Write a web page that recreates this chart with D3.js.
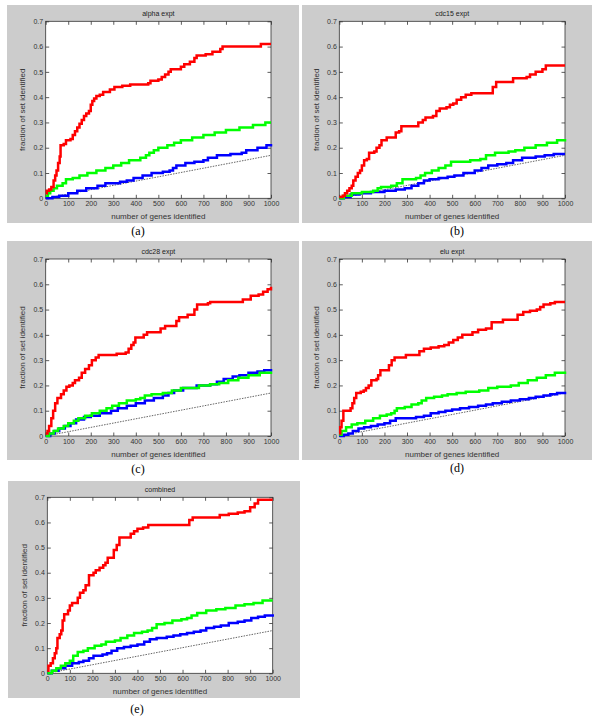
<!DOCTYPE html>
<html>
<head>
<meta charset="utf-8">
<script src="https://cdn.jsdelivr.net/npm/d3@7"></script>
<style>
  body { margin: 0; background: #fff; }
</style>
</head>
<body>
<div id="chart"></div>
<script>
// tick values
const xTicks = [0, 100, 200, 300, 400, 500, 600, 700, 800, 900, 1000];
const yTicks = [0, 0.1, 0.2, 0.3, 0.4, 0.5, 0.6, 0.7];

const titles = ["alpha expt", "cdc15 expt", "cdc28 expt", "elu expt", "combined"];
const captions = ["(a)", "(b)", "(c)", "(d)", "(e)"];
const xLabel = "number of genes identified";
const yLabel = "fraction of set identified";

// expected fraction for a random ordering (dotted line)
const randomLine = [[0, 0], [1000, 0.17]];

// (a) alpha
const alphaRed = [[0,0.02],[5,0.03],[15,0.035],[25,0.045],[35,0.07],[42,0.09],[48,0.11],[55,0.14],[62,0.165],[66,0.21],[80,0.215],[90,0.23],[110,0.235],[120,0.25],[130,0.265],[140,0.28],[150,0.295],[160,0.31],[170,0.325],[180,0.335],[192,0.345],[200,0.37],[207,0.385],[215,0.395],[225,0.405],[240,0.41],[255,0.42],[285,0.43],[305,0.44],[340,0.445],[375,0.45],[455,0.455],[465,0.465],[500,0.47],[515,0.48],[530,0.49],[545,0.5],[555,0.51],[600,0.52],[615,0.53],[640,0.54],[660,0.555],[670,0.565],[710,0.57],[740,0.58],[775,0.59],[785,0.6],[955,0.61],[1000,0.61]];
const alphaGreen = [[0,0.01],[10,0.02],[20,0.03],[35,0.04],[50,0.05],[75,0.06],[90,0.075],[120,0.08],[150,0.09],[185,0.1],[225,0.11],[265,0.12],[300,0.13],[335,0.14],[370,0.15],[420,0.16],[445,0.17],[460,0.18],[480,0.19],[500,0.2],[540,0.21],[570,0.22],[600,0.23],[650,0.24],[700,0.25],[750,0.26],[800,0.27],[860,0.28],[920,0.29],[975,0.3],[1000,0.3]];
const alphaBlue = [[0,0],[30,0.005],[60,0.01],[100,0.02],[140,0.03],[180,0.04],[230,0.05],[265,0.06],[330,0.065],[360,0.07],[390,0.08],[430,0.09],[470,0.1],[520,0.105],[550,0.11],[565,0.12],[580,0.13],[620,0.14],[660,0.145],[700,0.15],[720,0.16],[760,0.17],[820,0.175],[870,0.18],[890,0.19],[940,0.2],[980,0.21],[1000,0.215]];

// (b) cdc15
const cdc15Red = [[0,0.005],[15,0.01],[25,0.02],[35,0.03],[45,0.04],[55,0.05],[62,0.07],[72,0.085],[82,0.1],[92,0.11],[100,0.13],[110,0.15],[122,0.155],[132,0.18],[155,0.185],[165,0.2],[178,0.21],[187,0.23],[210,0.24],[250,0.26],[265,0.265],[275,0.285],[350,0.3],[370,0.31],[382,0.32],[415,0.325],[430,0.345],[445,0.355],[475,0.36],[490,0.37],[505,0.375],[520,0.39],[540,0.4],[560,0.41],[585,0.415],[680,0.44],[695,0.46],[770,0.475],[830,0.48],[845,0.49],[870,0.5],[900,0.51],[915,0.525],[1000,0.525]];
const cdc15Green = [[0,0],[20,0.01],[55,0.02],[100,0.025],[150,0.03],[170,0.04],[185,0.045],[230,0.05],[255,0.06],[280,0.075],[340,0.08],[360,0.09],[380,0.1],[410,0.11],[440,0.12],[470,0.13],[495,0.145],[580,0.15],[625,0.155],[650,0.17],[690,0.18],[750,0.185],[780,0.19],[820,0.2],[870,0.21],[920,0.22],[965,0.23],[1000,0.235]];
const cdc15Blue = [[0,0],[20,0.005],[50,0.015],[90,0.02],[140,0.025],[200,0.03],[250,0.035],[290,0.04],[320,0.05],[350,0.06],[375,0.07],[400,0.075],[440,0.08],[480,0.085],[510,0.09],[550,0.1],[600,0.11],[630,0.12],[660,0.13],[700,0.135],[740,0.14],[770,0.15],[810,0.16],[870,0.165],[910,0.17],[950,0.175],[1000,0.175]];

// (c) cdc28
const cdc28Red = [[0,0.01],[8,0.02],[15,0.04],[25,0.07],[33,0.1],[42,0.13],[52,0.15],[68,0.165],[80,0.18],[92,0.195],[105,0.2],[120,0.21],[130,0.22],[148,0.23],[160,0.25],[175,0.265],[192,0.28],[205,0.3],[222,0.31],[235,0.32],[315,0.325],[355,0.33],[368,0.345],[380,0.36],[390,0.37],[398,0.39],[435,0.4],[450,0.41],[510,0.425],[530,0.435],[580,0.455],[592,0.47],[630,0.48],[660,0.5],[672,0.52],[720,0.525],[730,0.53],[875,0.54],[910,0.555],[945,0.56],[965,0.57],[985,0.58],[1000,0.59]];
const cdc28Green = [[0,0],[15,0.01],[35,0.02],[55,0.03],[80,0.04],[100,0.05],[125,0.06],[145,0.07],[175,0.08],[205,0.09],[240,0.1],[270,0.11],[295,0.12],[325,0.13],[360,0.14],[400,0.145],[420,0.15],[440,0.16],[470,0.165],[520,0.17],[560,0.18],[600,0.19],[680,0.2],[730,0.205],[770,0.21],[810,0.22],[855,0.23],[900,0.24],[950,0.25],[1000,0.255]];
const cdc28Blue = [[0,0],[20,0.01],[40,0.02],[60,0.03],[85,0.04],[110,0.05],[135,0.065],[170,0.075],[200,0.08],[240,0.09],[290,0.1],[320,0.11],[360,0.12],[400,0.13],[440,0.14],[480,0.15],[520,0.16],[545,0.17],[570,0.18],[610,0.19],[670,0.2],[730,0.205],[760,0.215],[790,0.225],[830,0.235],[860,0.24],[900,0.25],[940,0.255],[970,0.26],[1000,0.265]];

// (d) elu
const eluRed = [[0,0.01],[4,0.035],[10,0.06],[18,0.1],[50,0.11],[58,0.13],[66,0.15],[75,0.17],[95,0.175],[108,0.18],[118,0.19],[130,0.2],[142,0.22],[165,0.225],[172,0.24],[182,0.26],[220,0.28],[232,0.3],[245,0.31],[295,0.32],[355,0.335],[375,0.345],[405,0.35],[440,0.355],[465,0.36],[485,0.37],[505,0.38],[525,0.39],[545,0.4],[590,0.41],[615,0.42],[650,0.425],[675,0.45],[725,0.46],[790,0.48],[815,0.49],[845,0.495],[875,0.5],[890,0.51],[905,0.52],[935,0.525],[955,0.53],[1000,0.53]];
const eluGreen = [[0,0.005],[10,0.02],[30,0.035],[55,0.045],[80,0.05],[115,0.06],[150,0.07],[180,0.08],[210,0.085],[230,0.09],[245,0.1],[255,0.11],[290,0.115],[320,0.125],[350,0.13],[365,0.14],[385,0.15],[420,0.155],[455,0.16],[480,0.165],[520,0.17],[560,0.175],[620,0.18],[660,0.19],[700,0.195],[760,0.2],[795,0.21],[835,0.22],[875,0.23],[915,0.24],[955,0.25],[1000,0.255]];
const eluBlue = [[0,0],[20,0.005],[40,0.01],[60,0.02],[85,0.03],[110,0.035],[140,0.04],[170,0.045],[200,0.05],[225,0.06],[250,0.07],[340,0.075],[375,0.08],[405,0.09],[440,0.095],[470,0.1],[500,0.105],[535,0.11],[575,0.115],[615,0.12],[650,0.125],[680,0.13],[720,0.135],[760,0.14],[800,0.145],[840,0.15],[870,0.155],[905,0.16],[935,0.165],[965,0.17],[1000,0.175]];

// (e) combined
const combinedRed = [[0,0.01],[5,0.03],[15,0.04],[25,0.06],[33,0.08],[40,0.1],[45,0.14],[55,0.155],[62,0.17],[68,0.21],[75,0.235],[92,0.25],[100,0.27],[110,0.28],[135,0.3],[145,0.32],[160,0.33],[170,0.35],[185,0.39],[205,0.4],[215,0.41],[232,0.42],[248,0.43],[258,0.44],[268,0.46],[295,0.49],[308,0.51],[320,0.54],[370,0.555],[385,0.565],[400,0.575],[425,0.58],[448,0.59],[630,0.61],[645,0.62],[765,0.63],[805,0.635],[845,0.64],[875,0.645],[900,0.66],[920,0.675],[935,0.69],[1000,0.69]];
const combinedGreen = [[0,0],[20,0.01],[40,0.02],[60,0.03],[80,0.04],[100,0.05],[115,0.07],[135,0.085],[160,0.09],[180,0.1],[210,0.11],[240,0.115],[260,0.125],[300,0.13],[325,0.14],[355,0.15],[385,0.16],[420,0.165],[445,0.17],[465,0.18],[485,0.195],[520,0.2],[555,0.21],[595,0.215],[620,0.22],[640,0.23],[665,0.24],[705,0.25],[750,0.255],[790,0.26],[835,0.27],[875,0.275],[915,0.28],[955,0.29],[1000,0.29]];
const combinedBlue = [[0,0],[20,0.01],[50,0.02],[80,0.03],[110,0.04],[140,0.045],[160,0.05],[185,0.06],[205,0.07],[245,0.075],[265,0.08],[285,0.09],[310,0.1],[340,0.105],[370,0.11],[400,0.115],[430,0.125],[455,0.135],[485,0.14],[530,0.145],[560,0.15],[590,0.155],[620,0.16],[650,0.165],[680,0.17],[705,0.18],[740,0.185],[770,0.19],[805,0.2],[845,0.205],[875,0.21],[905,0.22],[935,0.225],[965,0.23],[1000,0.235]];

const redSeries = [alphaRed, cdc15Red, cdc28Red, eluRed, combinedRed];
const greenSeries = [alphaGreen, cdc15Green, cdc28Green, eluGreen, combinedGreen];
const blueSeries = [alphaBlue, cdc15Blue, cdc28Blue, eluBlue, combinedBlue];

// page layout of the five panels (gray frame, plot box, caption position)
const boxes = [
  { gx: 7,   gy: 5,   gw: 292, gh: 218, px: 45.7,  py: 21.3,  pw: 225.3, ph: 177, lx: 138, ly: 235 },
  { gx: 302, gy: 5,   gw: 290, gh: 218, px: 339.3, py: 21.3,  pw: 225.7, ph: 177, lx: 457, ly: 235 },
  { gx: 7,   gy: 241, gw: 292, gh: 219, px: 45.7,  py: 259,   pw: 225.3, ph: 177, lx: 138, ly: 472.5 },
  { gx: 302, gy: 241, gw: 290, gh: 219, px: 339.3, py: 259,   pw: 225.7, ph: 177, lx: 457, ly: 472 },
  { gx: 8,   gy: 481, gw: 292, gh: 217, px: 47.3,  py: 497.3, pw: 225.4, ph: 176, lx: 137, ly: 712.5 }
];

const W = 600, H = 722;
const sans = "'Liberation Sans', Arial, sans-serif";
const ink = "#333";

const svg = d3.select("#chart")
  .append("svg")
  .attr("width", W)
  .attr("height", H)
  .style("display", "block");

svg.append("rect").attr("width", W).attr("height", H).attr("fill", "#fff");

const fmtY = d => d === 0 ? "0" : d3.format(".1f")(d);

function styleAxis(sel) {
  sel.attr("font-family", sans).attr("font-size", 7);
  sel.select(".domain").remove();
  sel.selectAll(".tick line").attr("stroke", ink).attr("stroke-width", 0.8);
  sel.selectAll(".tick text").attr("fill", ink);
}

function drawPanel(i) {
  const b = boxes[i];
  const g = svg.append("g");

  g.append("rect")
    .attr("x", b.gx).attr("y", b.gy)
    .attr("width", b.gw).attr("height", b.gh)
    .attr("fill", "#cccccc");

  const plot = g.append("g").attr("transform", `translate(${b.px},${b.py})`);
  plot.append("rect").attr("width", b.pw).attr("height", b.ph).attr("fill", "#fff");

  const x = d3.scaleLinear().domain([0, 1000]).range([0, b.pw]);
  const y = d3.scaleLinear().domain([0, 0.7]).range([b.ph, 0]);

  // inward ticks on all four sides, like a matlab box
  plot.append("g")
    .attr("transform", `translate(0,${b.ph})`)
    .call(d3.axisBottom(x).tickValues(xTicks).tickSize(-3.5).tickSizeOuter(0).tickPadding(3).tickFormat(d3.format("d")))
    .call(styleAxis);
  plot.append("g")
    .call(d3.axisLeft(y).tickValues(yTicks).tickSize(-3.5).tickSizeOuter(0).tickPadding(2.5).tickFormat(fmtY))
    .call(styleAxis);
  plot.append("g")
    .call(d3.axisTop(x).tickValues(xTicks).tickSize(-3.5).tickSizeOuter(0).tickFormat(""))
    .call(styleAxis);
  plot.append("g")
    .attr("transform", `translate(${b.pw},0)`)
    .call(d3.axisRight(y).tickValues(yTicks).tickSize(-3.5).tickSizeOuter(0).tickFormat(""))
    .call(styleAxis);

  plot.append("rect")
    .attr("width", b.pw).attr("height", b.ph)
    .attr("fill", "none").attr("stroke", ink).attr("stroke-width", 0.8);

  const stepLine = d3.line()
    .curve(d3.curveStepAfter)
    .x(d => x(d[0]))
    .y(d => y(d[1]));
  const straight = d3.line()
    .x(d => x(d[0]))
    .y(d => y(d[1]));

  plot.append("path")
    .attr("d", straight(randomLine))
    .attr("fill", "none")
    .attr("stroke", "#222")
    .attr("stroke-width", 0.7)
    .attr("stroke-dasharray", "1.5,1.2");

  [[blueSeries[i], "#0000ff"], [greenSeries[i], "#00ff00"], [redSeries[i], "#ff0000"]].forEach(([data, c]) => {
    plot.append("path")
      .attr("d", stepLine(data))
      .attr("fill", "none")
      .attr("stroke", c)
      .attr("stroke-width", 2.5)
      .attr("stroke-linejoin", "miter");
  });

  // titles and axis labels
  g.append("text")
    .attr("x", b.px + b.pw / 2).attr("y", b.py - 5)
    .attr("text-anchor", "middle")
    .attr("font-family", sans).attr("font-size", 7)
    .attr("fill", "#222")
    .text(titles[i]);

  g.append("text")
    .attr("x", b.px + b.pw / 2).attr("y", b.py + b.ph + 20.5)
    .attr("text-anchor", "middle")
    .attr("font-family", sans).attr("font-size", 8)
    .attr("fill", ink)
    .text(xLabel);

  g.append("text")
    .attr("transform", `translate(${b.px - 20.5},${b.py + b.ph / 2}) rotate(-90)`)
    .attr("text-anchor", "middle")
    .attr("font-family", sans).attr("font-size", 8)
    .attr("fill", ink)
    .text(yLabel);

  svg.append("text")
    .attr("x", b.lx).attr("y", b.ly)
    .attr("text-anchor", "middle")
    .attr("font-family", "'Liberation Serif', 'Times New Roman', serif")
    .attr("font-size", 12)
    .attr("fill", "#000")
    .text(captions[i]);
}

titles.forEach((t, i) => drawPanel(i));
</script>
</body>
</html>
